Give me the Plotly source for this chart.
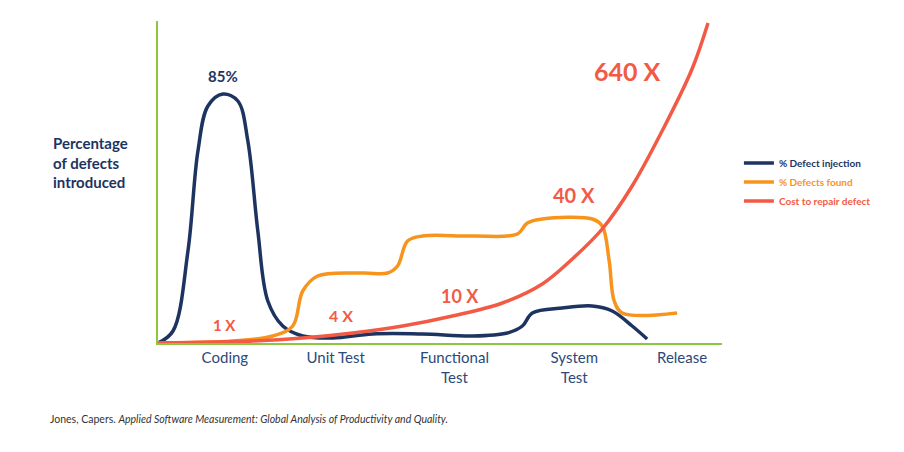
import plotly.graph_objects as go

stages = ["Coding", "Unit Test", "Functional<br>Test", "System<br>Test", "Release"]
stage_x = [67, 178, 297, 417, 525]

inj_x = [0,15,30,40,50,65,80,90,100,110,125,145,175,215,265,315,350,365,375,405,435,455,475,490]
inj_y = [0,12,92,192,237,249,242,202,112,42,17,7,5,9,9,7,10,17,30,35,37,32,17,4]

found_x = [0,75,115,135,145,160,205,230,240,250,265,315,360,370,385,435,445,452,457,465,520]
found_y = [0,2,7,17,52,67,70,70,77,102,107,107,109,120,124,124,117,82,42,30,30]

cost_x = [0,95,145,195,245,295,345,385,415,445,475,505,535,551]
cost_y = [0,2,5,10,17,27,40,59,84,114,157,212,274,320]

labels = ["85%", "1 X", "4 X", "10 X", "40 X", "640 X"]
label_x = [65, 67, 183, 303, 417, 470]
label_y = [267, 18, 28, 47, 148, 272]
label_size = [15, 15, 16, 18, 20, 25]

NAVY = "#1d3461"; ORANGE = "#f7941d"; RED = "#f25a45"; GREEN = "#8dc63f"

fig = go.Figure()
fig.add_trace(go.Scatter(x=inj_x, y=inj_y, mode="lines", line=dict(color=NAVY, width=3.5, shape="spline"),
    name=f"<span style='color:{NAVY}'><b>% Defect injection</b></span>"))
fig.add_trace(go.Scatter(x=found_x, y=found_y, mode="lines", line=dict(color=ORANGE, width=3.5, shape="spline"),
    name=f"<span style='color:{ORANGE}'><b>% Defects found</b></span>"))
fig.add_trace(go.Scatter(x=cost_x, y=cost_y, mode="lines", line=dict(color=RED, width=3.5, shape="spline"),
    name=f"<span style='color:{RED}'><b>Cost to repair defect</b></span>"))

for t, x, y, s in zip(labels, label_x, label_y, label_size):
    fig.add_annotation(x=x, y=y, text=f"<b>{t}</b>", showarrow=False,
                       font=dict(size=s, color=NAVY if t == "85%" else RED))

fig.add_annotation(xref="paper", yref="paper", x=-0.12, y=0.56, xanchor="center", align="left",
    text="<b>Percentage<br>of defects<br>introduced</b>", showarrow=False, font=dict(size=15, color=NAVY))
fig.add_annotation(xref="paper", yref="paper", x=-0.195, y=-0.235, xanchor="left", yanchor="middle",
    text="Jones, Capers. <i>Applied Software Measurement: Global Analysis of Productivity and Quality.</i>",
    showarrow=False, font=dict(size=10.5, color="#333333"))

fig.update_layout(
    width=904, height=452, paper_bgcolor="white", plot_bgcolor="white",
    margin=dict(l=150, r=190, t=13, b=117),
    font=dict(family="Lato, Open Sans, sans-serif"),
    legend=dict(x=1.03, y=0.5, yanchor="middle", font=dict(size=10), itemwidth=30, tracegroupgap=2),
    xaxis=dict(range=[0, 565], showgrid=False, zeroline=False, showline=True, linecolor=GREEN, linewidth=2,
               tickmode="array", tickvals=stage_x, ticktext=stages, ticks="",
               tickfont=dict(size=15, color="#2b4a7a")),
    yaxis=dict(range=[0, 322], showgrid=False, zeroline=False, showline=True, linecolor=GREEN, linewidth=2,
               showticklabels=False, ticks=""),
)
fig.write_html("out.html")
